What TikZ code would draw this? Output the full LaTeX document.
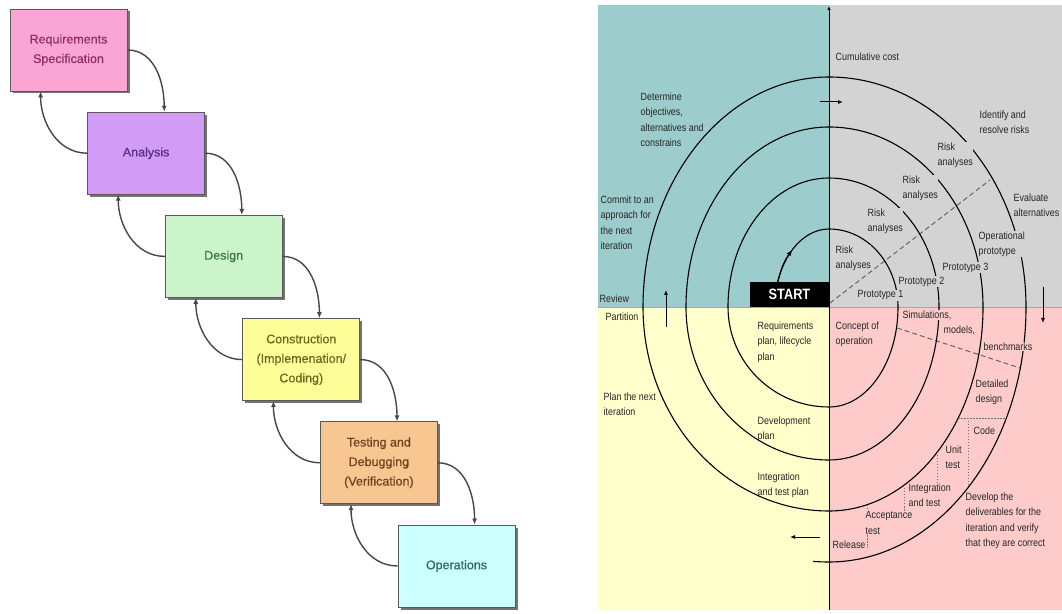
\documentclass[tikz,border=0pt]{standalone}
\usepackage{fontspec}
\setmainfont{Liberation Sans}
\newfontfamily\condfont[FakeStretch=0.85]{Liberation Sans}
\newfontfamily\boxfont[FakeBold=0.6]{Liberation Sans}
\usetikzlibrary{arrows.meta,shadows}
\definecolor{reqfill}{HTML}{F9A6D4}\definecolor{reqtext}{HTML}{8E2E62}
\definecolor{anafill}{HTML}{D29BF5}\definecolor{anatext}{HTML}{5A2E8A}
\definecolor{desfill}{HTML}{CCF5CC}\definecolor{destext}{HTML}{3C7A3C}
\definecolor{confill}{HTML}{FFFF99}\definecolor{context}{HTML}{6A6A20}
\definecolor{tesfill}{HTML}{F8C690}\definecolor{testext}{HTML}{6E4420}
\definecolor{opsfill}{HTML}{CCFFFF}\definecolor{opstext}{HTML}{2E6868}
\definecolor{qteal}{HTML}{9CCCCB}\definecolor{qgrey}{HTML}{D3D3D3}
\definecolor{qyellow}{HTML}{FFFFCC}\definecolor{qpink}{HTML}{FECBCB}
\tikzset{
  wbox/.style={draw=black!65, line width=0.8pt, minimum width=117pt, minimum height=82pt,
    inner sep=2pt, align=center, font=\boxfont\fontsize{12.5}{19.5}\selectfont,
    drop shadow={shadow xshift=2.5pt, shadow yshift=-2.5pt, fill=black!55, opacity=1}},
  wfl/.style={draw=black!72, line width=1.4pt, -{Latex[length=6pt,width=5pt]}},
  spiral/.style={draw=black, line width=1.1pt},
  lbl/.style={font=\condfont\fontsize{10.5}{15.5}\selectfont, align=left, anchor=north west,
    inner sep=0.5pt, text=black!85},
  lblg/.style={lbl, fill=qgrey},
  lblp/.style={lbl, fill=qpink},
  dirarrow/.style={draw=black, line width=1pt, -{Latex[length=5pt,width=4pt]}},
  dashl/.style={draw=black!60, line width=1pt, dash pattern=on 5pt off 3pt},
  dotl/.style={draw=black!55, line width=0.7pt, dash pattern=on 1.5pt off 1.5pt}
}
\begin{document}
\begin{tikzpicture}[x=1pt,y=1pt]
\useasboundingbox (0,0) rectangle (1062,613);
\fill[white] (0,0) rectangle (1062,613);

% ---------------- waterfall ----------------
\node[wbox, fill=reqfill, text=reqtext] (req) at (68.5,563) {Requirements\\Specification};
\node[wbox, fill=anafill, text=anatext] (ana) at (146.1,459.8) {Analysis};
\node[wbox, fill=desfill, text=destext] (des) at (223.7,356.6) {Design};
\node[wbox, fill=confill, text=context] (con) at (301.3,253.4) {Construction\\(Implemenation/\\Coding)};
\node[wbox, fill=tesfill, text=testext] (tes) at (378.9,150.2) {Testing and\\Debugging\\(Verification)};
\node[wbox, fill=opsfill, text=opstext] (ops) at (456.5,47) {Operations};

\foreach \a/\b in {req/ana,ana/des,des/con,con/tes,tes/ops}{
  \draw[wfl] (\a.east) to[out=0,in=90] ([xshift=77pt]\b.north west);
  \draw[wfl] (\b.west) to[out=180,in=-90] ([xshift=31pt]\a.south west);
}

% ---------------- spiral model ----------------
\fill[qteal] (598,306) rectangle (829,608);
\fill[qgrey] (829,306) rectangle (1062,608);
\fill[qyellow] (598,3) rectangle (829,306);
\fill[qpink] (829,3) rectangle (1062,306);
\draw[black!35, line width=0.6pt] (598,306) -- (1062,306);

\coordinate (axb) at (829,3);
\coordinate (axt) at (829,607);
\draw[black, line width=1pt, -{Latex[length=4pt,width=3.5pt]}] (axb) -- (axt);

% dashed lines
\coordinate (dg1) at (830,310); \coordinate (dg2) at (990,433);
\draw[dashl] (dg1) -- (dg2);
\coordinate (dp1) at (897,285); \coordinate (dp2) at (1020,245);
\draw[dashl] (dp1) -- (dp2);

\begin{scope}[shift={(829,306)}]
\draw[spiral] (180:54 and 78) arc[start angle=180,end angle=90,x radius=54,y radius=78]
 arc[start angle=90,end angle=0,x radius=69,y radius=78]
 arc[start angle=0,end angle=-90,x radius=69,y radius=100]
 arc[start angle=270,end angle=180,x radius=101,y radius=100]
 arc[start angle=180,end angle=90,x radius=101,y radius=129]
 arc[start angle=90,end angle=0,x radius=110,y radius=129]
 arc[start angle=0,end angle=-90,x radius=110,y radius=153]
 arc[start angle=270,end angle=180,x radius=143,y radius=153]
 arc[start angle=180,end angle=90,x radius=143,y radius=180]
 arc[start angle=90,end angle=0,x radius=154,y radius=180]
 arc[start angle=0,end angle=-90,x radius=154,y radius=204]
 arc[start angle=270,end angle=180,x radius=186,y radius=204]
 arc[start angle=180,end angle=90,x radius=186,y radius=230]
 arc[start angle=90,end angle=0,x radius=197,y radius=230]
 arc[start angle=0,end angle=-90,x radius=197,y radius=255]
 arc[start angle=270,end angle=266,x radius=229,y radius=255];
\draw[spiral, -{Latex[length=6pt,width=5pt]}] (180:54 and 78) arc[start angle=180,end angle=133,x radius=54,y radius=78];
\end{scope}

% dotted stairs
\draw[dotl] (958,195) -- (1006,195);
\draw[dotl] (968,195) -- (968,127);
\draw[dotl] (937,161) -- (937,128);
\draw[dotl] (904,128) -- (904,83);
\draw[dotl] (867,108) -- (867,65);

% direction arrows
\coordinate (at1) at (820,511); \coordinate (at2) at (843,511);
\draw[dirarrow] (at1) -- (at2);
\coordinate (ar1) at (1043,326); \coordinate (ar2) at (1043,290);
\draw[dirarrow] (ar1) -- (ar2);
\coordinate (ab1) at (820,76); \coordinate (ab2) at (790,76);
\draw[dirarrow] (ab1) -- (ab2);
\coordinate (al1) at (666,286); \coordinate (al2) at (666,323);
\draw[dirarrow] (al1) -- (al2);

% START
\node[fill=black, text=white, font=\condfont\bfseries\fontsize{15}{15}\selectfont,
  minimum width=79pt, minimum height=25pt, inner sep=0pt] (start) at (789.5,318.5) {START};

% teal labels
\node[lbl] (l1) at (640,521) {Determine\\objectives,\\alternatives and\\constrains};
\node[lbl] (l2) at (600,418) {Commit to an\\approach for\\the next\\iteration};
\node[lbl] (l3) at (599,319) {Review};
% grey labels
\node[lbl] (g1) at (835,561) {Cumulative cost};
\node[lbl] (g2) at (979,503) {Identify and\\resolve risks};
\node[lblg] (g3) at (937,471) {Risk\\analyses};
\node[lblg] (g4) at (902,438) {Risk\\analyses};
\node[lblg] (g5) at (867,405) {Risk\\analyses};
\node[lblg] (g6) at (835,368) {Risk\\analyses};
\node[lbl] (g7) at (1013,420) {Evaluate\\alternatives};
\node[lblg] (g8) at (978,382) {Operational\\prototype};
\node[lblg] (g9) at (942,351) {Prototype 3};
\node[lblg] (g10) at (898,337) {Prototype 2};
\node[lblg] (g11) at (857,323) {Prototype 1};
% yellow labels
\node[lbl] (y1) at (605,301) {Partition};
\node[lbl] (y2) at (603,221) {Plan the next\\iteration};
\node[lbl] (y3) at (757,292) {Requirements\\plan, lifecycle\\plan};
\node[lbl] (y4) at (757,197) {Development\\plan};
\node[lbl] (y5) at (757,141) {Integration\\and test plan};
% pink labels
\node[lbl] (p1) at (835,292) {Concept of\\operation};
\node[lblp] (p2) at (902,303) {Simulations,};
\node[lblp] (p3) at (943,288) {models,};
\node[lblp] (p4) at (983,271) {benchmarks};
\node[lblp] (p5) at (975,234) {Detailed\\design};
\node[lblp] (p6) at (973,187) {Code};
\node[lblp] (p7) at (945,168) {Unit\\test};
\node[lblp] (p8) at (908,130) {Integration\\and test};
\node[lblp] (p9) at (865,102) {Acceptance\\test};
\node[lblp] (p10) at (832,73) {Release};
\node[lbl] (p11) at (965,121) {Develop the\\deliverables for the\\iteration and verify\\that they are correct};
\end{tikzpicture}
\end{document}
